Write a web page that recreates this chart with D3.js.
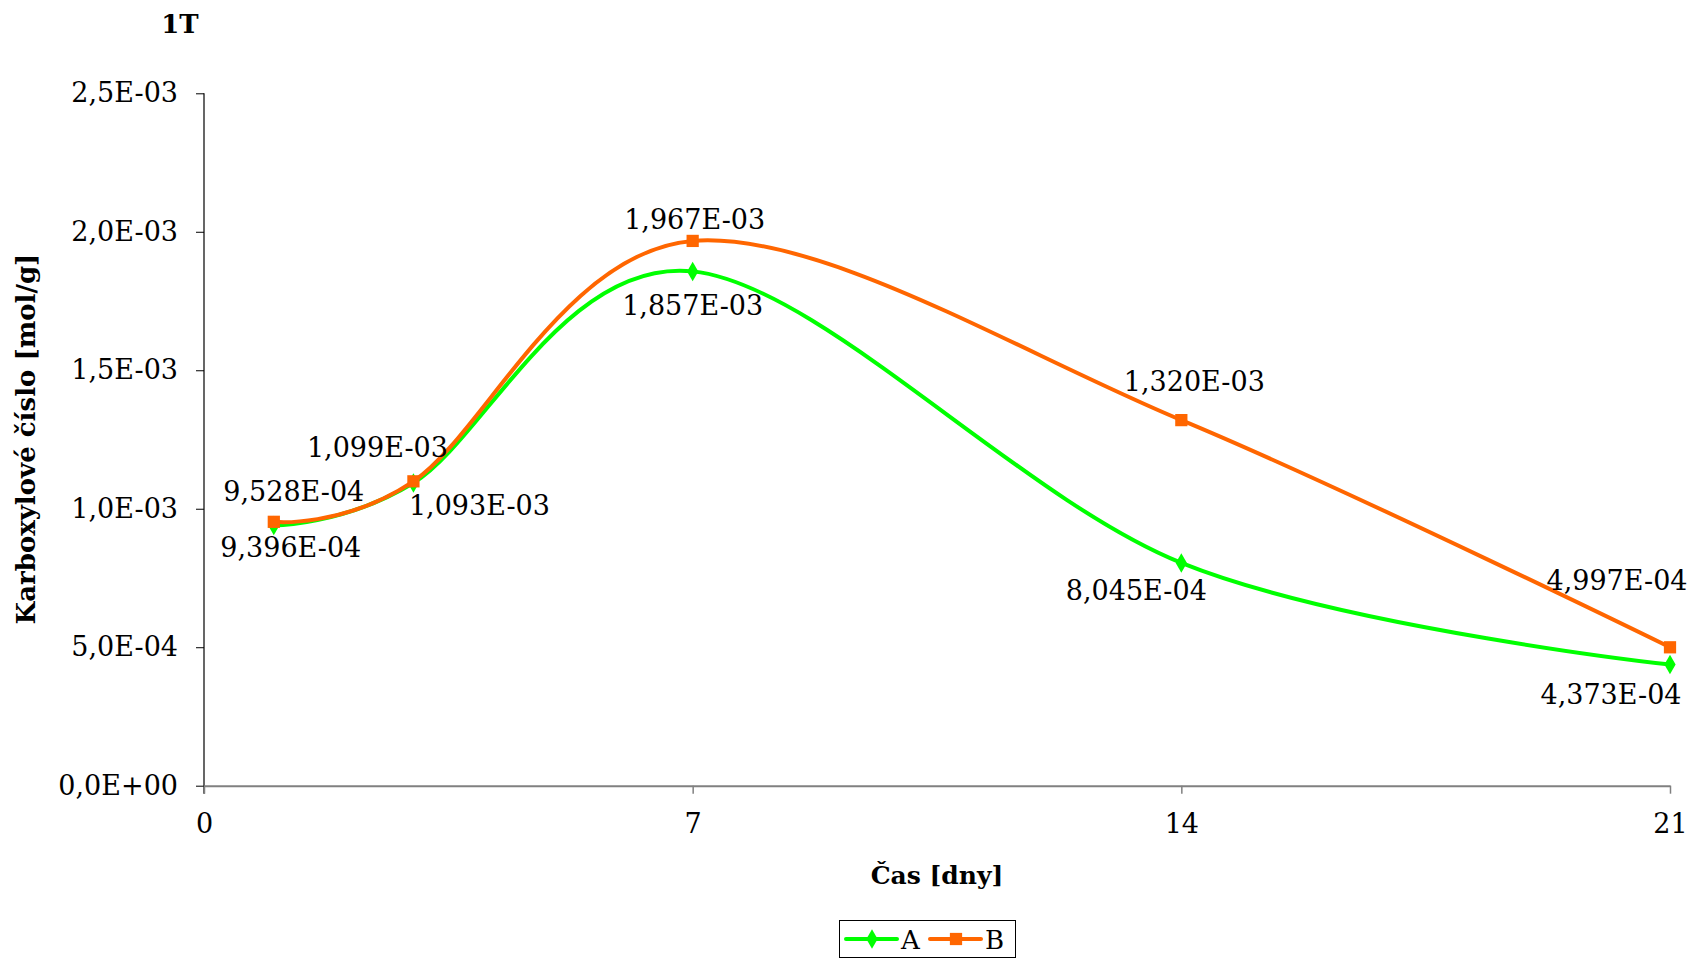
<!DOCTYPE html>
<html>
<head>
<meta charset="utf-8">
<script src="https://cdn.jsdelivr.net/npm/d3@7"></script>
<style>
  body { margin: 0; background: #ffffff; }
  #chart { width: 1697px; height: 961px; }
  text { font-family: "DejaVu Serif", serif; fill: #000; }
</style>
</head>
<body>
<div id="chart"></div>
<script>
const days = [1, 3, 7, 14, 21];
const seriesA = [9.396e-4, 1.093e-3, 1.857e-3, 8.045e-4, 4.373e-4];
const seriesB = [9.528e-4, 1.099e-3, 1.967e-3, 1.320e-3, 4.997e-4];
const xTicks = [0, 7, 14, 21];
const yTicks = [0, 5e-4, 1e-3, 1.5e-3, 2e-3, 2.5e-3];
const seriesNames = ["A", "B"];

// label placement (px from the point), hand-tuned like in the original chart
const offsetsA = [[17, 22], [66, 22], [0, 34], [-45, 27], [-59, 30]];
const offsetsB = [[20, -31], [-36, -34], [2, -22], [13, -39], [-53, -67]];

const width = 1697;
const height = 961;
const margin = ({ top: 93.3, right: 27, bottom: 175.3, left: 204 });

function sci(v, digits) {
  var parts = v.toExponential(digits).split("e");
  var e = +parts[1];
  var sign = e < 0 ? "-" : "+";
  return parts[0].replace(".", ",") + "E" + sign + String(Math.abs(e)).padStart(2, "0");
}

const svg = d3.select("#chart")
  .append("svg")
  .attr("width", width)
  .attr("height", height);

const x = d3.scaleLinear()
  .domain([0, 21])
  .range([margin.left, width - margin.right]);

const y = d3.scaleLinear()
  .domain([0, 2.5e-3])
  .range([height - margin.bottom, margin.top]);

// title
svg.append("text")
  .attr("x", 180)
  .attr("y", 24)
  .attr("dy", "0.36em")
  .attr("text-anchor", "middle")
  .style("font-weight", "bold")
  .style("font-size", "26px")
  .text("1T");

// y axis
const yAxis = svg.append("g")
  .attr("transform", "translate(" + margin.left + ",0)")
  .call(d3.axisLeft(y).tickValues(yTicks).tickSize(8).tickPadding(18).tickFormat(d => sci(d, 1)));
yAxis.select(".domain").attr("stroke", "#000").attr("stroke-width", 1.2)
  .attr("d", "M0," + margin.top + "V" + (height - margin.bottom + 8));
yAxis.selectAll(".tick line").attr("stroke", "#000");
yAxis.selectAll(".tick text")
  .style("font-size", "27px")
  .style("font-family", "DejaVu Serif");

// x axis
const xAxis = svg.append("g")
  .attr("transform", "translate(0," + (height - margin.bottom) + ")")
  .call(d3.axisBottom(x).tickValues(xTicks).tickSize(8).tickPadding(20).tickSizeOuter(0));
xAxis.select(".domain").attr("stroke", "#808080").attr("stroke-width", 2);
xAxis.selectAll(".tick line").attr("stroke", "#808080").attr("stroke-width", 1.5);
xAxis.selectAll(".tick text")
  .style("font-size", "27px")
  .style("font-family", "DejaVu Serif");

// axis titles
svg.append("text")
  .attr("x", 937)
  .attr("y", 875)
  .attr("dy", "0.36em")
  .attr("text-anchor", "middle")
  .style("font-weight", "bold")
  .style("font-size", "25px")
  .text("Čas [dny]");

svg.append("text")
  .attr("transform", "translate(26,439)rotate(-90)")
  .attr("dy", "0.36em")
  .attr("text-anchor", "middle")
  .style("font-weight", "bold")
  .style("font-size", "26px")
  .text("Karboxylové číslo [mol/g]");

const line = d3.line()
  .x(d => x(d[0]))
  .y(d => y(d[1]))
  .curve(d3.curveCardinal.tension(0));

const series = [
  { name: seriesNames[0], values: seriesA, color: "#00ff00", symbol: d3.symbolDiamond, size: 110, offsets: offsetsA },
  { name: seriesNames[1], values: seriesB, color: "#ff6600", symbol: d3.symbolSquare, size: 150, offsets: offsetsB }
];

series.forEach(function (s) {
  var pts = days.map((d, i) => [d, s.values[i]]);

  svg.append("path")
    .datum(pts)
    .attr("fill", "none")
    .attr("stroke", s.color)
    .attr("stroke-width", 4)
    .attr("stroke-linejoin", "round")
    .attr("d", line);

  svg.append("g")
    .selectAll("path")
    .data(pts)
    .enter()
    .append("path")
    .attr("transform", d => "translate(" + x(d[0]) + "," + y(d[1]) + ")")
    .attr("fill", s.color)
    .attr("d", d3.symbol().type(s.symbol).size(s.size));
});

// data labels drawn after both lines
series.forEach(function (s) {
  svg.append("g")
    .selectAll("text")
    .data(days.map((d, i) => [d, s.values[i], s.offsets[i]]))
    .enter()
    .append("text")
    .attr("x", d => x(d[0]) + d[2][0])
    .attr("y", d => y(d[1]) + d[2][1])
    .attr("dy", "0.36em")
    .attr("text-anchor", "middle")
    .style("font-size", "27px")
    .text(d => sci(d[1], 3));
});

// legend
const legend = svg.append("g");
legend.append("rect")
  .attr("x", 839.5)
  .attr("y", 920.5)
  .attr("width", 176)
  .attr("height", 37)
  .attr("fill", "#fff")
  .attr("stroke", "#000")
  .attr("stroke-width", 1);

series.forEach(function (s, i) {
  var lx = 846 + i * 84;
  var g = legend.append("g");
  g.append("line")
    .attr("x1", lx).attr("x2", lx + 51)
    .attr("y1", 939).attr("y2", 939)
    .attr("stroke", s.color)
    .attr("stroke-width", 4)
    .attr("stroke-linecap", "round");
  g.append("path")
    .attr("transform", "translate(" + (lx + 26) + ",939)")
    .attr("fill", s.color)
    .attr("d", d3.symbol().type(s.symbol).size(s.size));
  g.append("text")
    .attr("x", lx + 55)
    .attr("y", 940)
    .attr("dy", "0.36em")
    .style("font-size", "26px")
    .text(s.name);
});
</script>
</body>
</html>
